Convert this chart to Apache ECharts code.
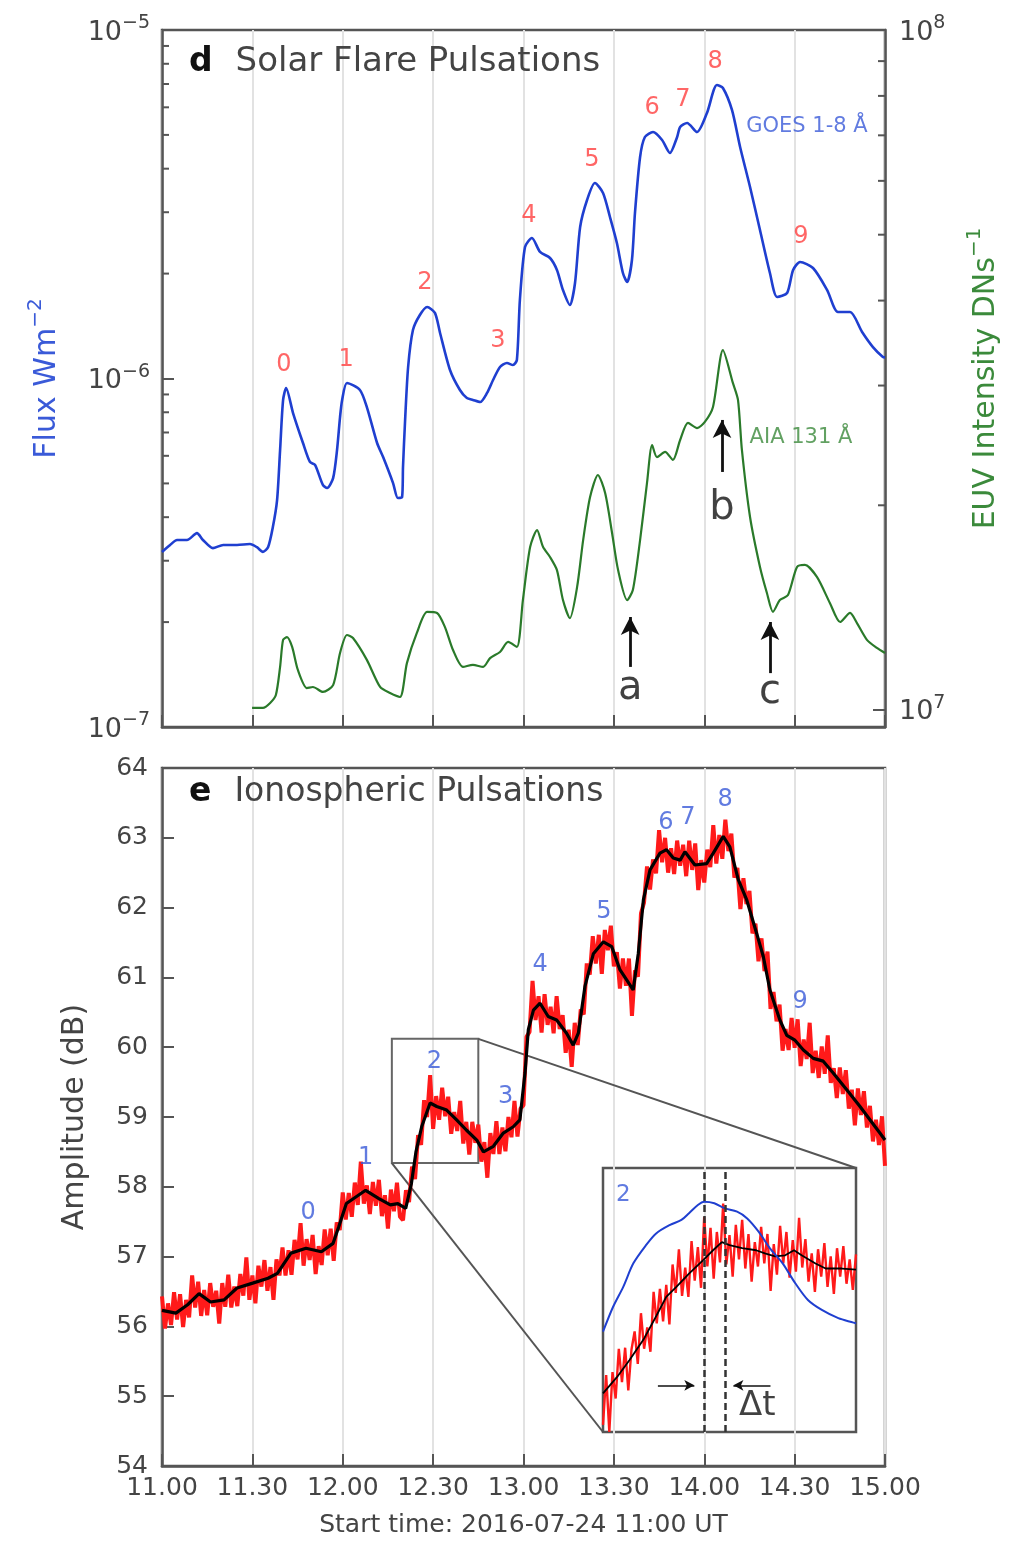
<!DOCTYPE html>
<html>
<head>
<meta charset="utf-8">
<title>Solar flare and ionospheric pulsations</title>
<script src="https://cdn.jsdelivr.net/npm/echarts@6.0.0/dist/echarts.min.js"></script>
<style>
  html, body { margin: 0; padding: 0; background: #ffffff; }
  #chart { width: 1014px; height: 1541px; }
</style>
</head>
<body>
<div id="chart"></div>
<script>
// time is in minutes after 11:00 UT, 2016-07-24
var timeLabels = ['11.00', '11.30', '12.00', '12.30', '13.00', '13.30', '14.00', '14.30', '15.00'];

// GOES 1-8 A flux, W m^-2
var goesTime = [0, 2.7, 5.0, 8.3, 11.6, 13.6, 16.9, 20.3, 24.9, 29.2,
  31.5, 33.5, 35.2, 36.8, 38.2, 39.2, 40.2, 41.2, 43.5, 46.8,
  49.1, 50.8, 53.4, 54.8, 56.8, 58.1, 59.1, 59.8, 61.4, 65.7,
  68.0, 71.4, 73.4, 76.7, 78.3, 79.7, 80.0, 80.7, 81.7, 83.3,
  85.6, 88.0, 90.6, 92.3, 95.6, 98.9, 101.2, 103.2, 105.6, 107.9,
  109.9, 112.2, 114.5, 116.5, 117.8, 118.8, 120.5, 122.8, 125.5, 128.8,
  131.1, 133.1, 135.4, 137.1, 138.8, 141.1, 143.7, 146.4, 148.7, 151.0,
  153.0, 154.4, 156.0, 157.0, 158.7, 160.3, 163.0, 166.0, 168.6, 171.0,
  172.0, 174.3, 177.6, 180.9, 184.2, 186.2, 189.2, 191.9, 195.2, 198.5,
  201.8, 204.2, 207.5, 209.5, 211.8, 216.1, 220.8, 224.4, 228.4, 232.4,
  236.0, 239.3, 240];
var goesFlux = [3.18e-7, 3.33e-7, 3.44e-7, 3.44e-7, 3.60e-7, 3.44e-7, 3.26e-7, 3.33e-7, 3.33e-7, 3.35e-7,
  3.28e-7, 3.18e-7, 3.28e-7, 3.75e-7, 4.48e-7, 6.23e-7, 8.68e-7, 9.39e-7, 7.96e-7, 6.53e-7,
  5.76e-7, 5.65e-7, 4.95e-7, 4.85e-7, 5.18e-7, 6.23e-7, 7.75e-7, 8.68e-7, 9.71e-7, 9.27e-7,
  8.28e-7, 6.53e-7, 5.95e-7, 5.01e-7, 4.54e-7, 4.57e-7, 5.57e-7, 7.60e-7, 1.079e-6, 1.377e-6,
  1.521e-6, 1.604e-6, 1.542e-6, 1.351e-6, 1.058e-6, 9.27e-7, 8.79e-7, 8.68e-7, 8.56e-7, 9.09e-7,
  9.90e-7, 1.079e-6, 1.108e-6, 1.093e-6, 1.130e-6, 1.680e-6, 2.384e-6, 2.531e-6, 2.307e-6, 2.217e-6,
  2.048e-6, 1.794e-6, 1.625e-6, 1.879e-6, 2.721e-6, 3.252e-6, 3.639e-6, 3.406e-6, 2.907e-6, 2.448e-6,
  2.008e-6, 1.892e-6, 2.188e-6, 2.985e-6, 4.321e-6, 4.932e-6, 5.096e-6, 4.834e-6, 4.437e-6, 4.932e-6,
  5.268e-6, 5.409e-6, 5.096e-6, 5.779e-6, 6.954e-6, 6.818e-6, 5.895e-6, 4.616e-6, 3.544e-6, 2.667e-6,
  2.008e-6, 1.713e-6, 1.759e-6, 2.048e-6, 2.159e-6, 2.075e-6, 1.794e-6, 1.551e-6, 1.551e-6, 1.360e-6,
  1.231e-6, 1.153e-6, 1.150e-6];

// AIA 131 A intensity, DN s^-1
var aiaTime = [29.9, 33.5, 35.9, 37.8, 39.2, 40.2, 41.5, 43.2, 45.1, 48.1,
  50.1, 53.4, 56.8, 59.1, 61.4, 63.4, 68.0, 72.4, 75.7, 79.0,
  81.3, 84.6, 88.0, 91.3, 93.9, 96.6, 99.9, 103.2, 106.6, 108.9,
  112.2, 114.9, 117.8, 119.8, 122.2, 124.5, 126.5, 128.8, 131.1, 133.1,
  135.4, 137.8, 139.8, 142.1, 144.7, 147.1, 149.4, 151.4, 154.4, 156.3,
  158.7, 161.0, 162.7, 164.3, 167.0, 169.6, 172.0, 174.6, 177.6, 180.2,
  182.9, 186.2, 189.5, 191.2, 192.5, 195.2, 198.5, 200.8, 202.8, 205.1,
  207.8, 210.8, 213.4, 217.4, 221.7, 225.1, 228.4, 230.7, 234.0, 237.3,
  240];
var aiaFlux = [1.007e7, 1.007e7, 1.024e7, 1.052e7, 1.157e7, 1.268e7, 1.280e7, 1.238e7, 1.145e7, 1.077e7,
  1.081e7, 1.063e7, 1.088e7, 1.213e7, 1.289e7, 1.276e7, 1.185e7, 1.081e7, 1.059e7, 1.045e7,
  1.172e7, 1.298e7, 1.394e7, 1.389e7, 1.325e7, 1.225e7, 1.157e7, 1.165e7, 1.157e7, 1.192e7,
  1.217e7, 1.259e7, 1.238e7, 1.451e7, 1.736e7, 1.839e7, 1.736e7, 1.679e7, 1.606e7, 1.451e7,
  1.365e7, 1.517e7, 1.778e7, 2.057e7, 2.216e7, 2.085e7, 1.821e7, 1.606e7, 1.451e7, 1.501e7,
  1.778e7, 2.157e7, 2.453e7, 2.355e7, 2.396e7, 2.332e7, 2.495e7, 2.643e7, 2.598e7, 2.652e7,
  2.790e7, 3.383e7, 3.027e7, 2.857e7, 2.412e7, 1.922e7, 1.623e7, 1.486e7, 1.394e7, 1.451e7,
  1.476e7, 1.623e7, 1.634e7, 1.569e7, 1.437e7, 1.347e7, 1.389e7, 1.342e7, 1.268e7, 1.234e7,
  1.213e7];

// VLF amplitude (dB), smoothed
var ampSmoothTime = [0, 4.6, 8.5, 12.3, 16.1, 20.6, 24.9, 30.1, 35.2, 38.3,
  42.8, 47.8, 52.9, 56.8, 58.7, 61.2, 67.6, 72.0, 75.8, 78.3,
  80.9, 82.8, 84.3, 86.2, 89.0, 91.2, 94.5, 97.8, 101.1, 104.5,
  106.7, 110.0, 113.3, 116.6, 118.8, 120.5, 121.6, 123.3, 125.5, 128.2,
  131.0, 134.3, 136.5, 138.2, 140.4, 143.2, 146.5, 149.3, 152.0, 154.3,
  156.4, 158.1, 159.8, 162.0, 165.3, 167.5, 169.7, 172.0, 173.6, 176.9,
  180.8, 183.0, 186.3, 188.5, 191.3, 194.1, 197.4, 199.6, 201.8, 205.1,
  207.4, 210.1, 212.9, 216.2, 219.5, 222.8, 227.3, 231.7, 235.0, 238.3,
  240];
var ampSmooth = [56.23, 56.19, 56.31, 56.47, 56.35, 56.38, 56.55, 56.62, 56.69, 56.76,
  57.05, 57.12, 57.07, 57.19, 57.43, 57.76, 57.95, 57.83, 57.74, 57.76,
  57.69, 58.05, 58.50, 58.86, 59.20, 59.15, 59.10, 58.96, 58.81, 58.67,
  58.50, 58.58, 58.77, 58.86, 58.96, 59.63, 60.25, 60.53, 60.63, 60.44,
  60.39, 60.20, 60.03, 60.20, 60.87, 61.34, 61.51, 61.44, 61.11, 60.96,
  60.82, 61.34, 62.11, 62.54, 62.78, 62.83, 62.71, 62.68, 62.80, 62.61,
  62.63, 62.78, 63.02, 62.87, 62.40, 62.11, 61.63, 61.30, 60.82, 60.39,
  60.17, 60.10, 59.96, 59.84, 59.80, 59.63, 59.39, 59.15, 58.96, 58.77,
  58.67];

// VLF amplitude (dB), raw, one sample a minute from 11:00
var ampRawStart = 0;
var ampRawStep = 1;
var ampRaw = [56.43, 55.97, 56.33, 56.02, 56.49, 56.10, 56.46, 55.99, 56.38, 56.13,
  56.73, 56.27, 56.64, 56.15, 56.52, 56.16, 56.62, 56.28, 56.51, 56.04,
  56.62, 56.28, 56.74, 56.27, 56.57, 56.29, 56.75, 56.44, 56.99, 56.38,
  56.73, 56.33, 56.87, 56.57, 56.95, 56.51, 56.85, 56.38, 56.96, 56.73,
  57.13, 56.73, 57.09, 56.74, 57.24, 56.96, 57.48, 56.87, 57.25, 56.95,
  57.31, 56.75, 57.15, 56.88, 57.39, 57.02, 57.40, 56.94, 57.49, 57.38,
  57.92, 57.53, 57.91, 57.57, 58.06, 57.74, 58.36, 57.76, 58.02, 57.61,
  58.07, 57.73, 58.10, 57.58, 57.88, 57.40, 57.96, 57.65, 58.06, 57.57,
  57.52, 57.95, 57.78, 58.29, 58.11, 58.74, 58.60, 59.24, 59.00, 59.60,
  58.83, 59.30, 58.96, 59.42, 59.01, 59.29, 58.76, 59.07, 58.80, 59.23,
  58.62, 58.93, 58.46, 58.93, 58.63, 58.89, 58.36, 58.64, 58.13, 58.77,
  58.47, 58.94, 58.47, 58.85, 58.51, 59.00, 58.71, 59.23, 58.72, 59.12,
  59.17, 60.15, 60.22, 60.95, 60.39, 60.73, 60.21, 60.76, 60.32, 60.58,
  60.20, 60.73, 60.26, 60.46, 59.92, 60.25, 59.72, 60.35, 60.03, 60.54,
  60.47, 61.20, 61.04, 61.59, 61.20, 61.61, 61.05, 61.68, 61.39, 61.74,
  61.16, 61.36, 60.84, 61.27, 60.88, 61.27, 60.45, 61.10, 61.01, 61.92,
  62.07, 62.59, 62.26, 62.69, 62.49, 63.11, 62.65, 63.00, 62.50, 62.85,
  62.48, 62.96, 62.60, 62.90, 62.45, 62.96, 62.54, 62.92, 62.25, 62.68,
  62.36, 62.83, 62.58, 63.18, 62.63, 63.04, 62.70, 63.26, 62.81, 63.06,
  62.43, 62.57, 61.98, 62.42, 62.05, 62.24, 61.63, 61.77, 61.23, 61.56,
  61.09, 61.37, 60.55, 60.79, 60.37, 60.61, 59.95, 60.26, 59.96, 60.42,
  59.99, 60.40, 59.73, 60.11, 59.83, 60.35, 59.63, 59.95, 59.56, 60.01,
  59.62, 60.17, 59.49, 59.70, 59.27, 59.71, 59.33, 59.67, 59.12, 59.39,
  58.88, 59.41, 59.03, 59.37, 58.85, 59.16, 58.65, 58.96, 58.60, 59.01,
  58.30];

// pulsation numbers
var pulseNames = ['0', '1', '2', '3', '4', '5', '6', '7', '8', '9'];
var goesPulseTime = [40.5, 61.1, 87.3, 111.5, 121.8, 142.7, 162.7, 172.9, 183.6, 212.1];
var goesPulseFlux = [1.093e-6, 1.13e-6, 1.879e-6, 1.281e-6, 2.927e-6, 4.236e-6, 5.97e-6, 6.3e-6, 8.09e-6, 2.547e-6];
var ampPulseTime = [48.5, 67.6, 90.4, 114.1, 125.5, 146.7, 167.3, 174.6, 186.9, 211.8];
var ampPulseDb = [57.63, 58.41, 59.79, 59.29, 61.18, 61.94, 63.21, 63.28, 63.54, 60.65];

// arrows a, b, c on the AIA curve
var arrowNames = ['a', 'b', 'c'];
var arrowTime = [155.4, 185.9, 201.8];
var arrowFrom = [1.157e7, 2.239e7, 1.133e7];
var arrowTo = [1.370e7, 2.670e7, 1.347e7];
var arrowTextEuv = [1.074e7, 1.975e7, 1.062e7];

// log axis minor ticks
var minorFluxTicks = [2e-7, 3e-7, 4e-7, 5e-7, 6e-7, 7e-7, 8e-7, 9e-7, 2e-6, 3e-6, 4e-6, 5e-6, 6e-6, 7e-6, 8e-6, 9e-6];
var minorEuvTicks = [2e7, 3e7, 4e7, 5e7, 6e7, 7e7, 8e7, 9e7];

// zoom box around pulsation 2 and the inset
var zoomBoxTime = [76.3, 105.0];
var zoomBoxDb = [58.34, 60.12];
var insetTimeRange = [80, 100];
var insetDbRange = [57.4, 60.0];
var insetFluxRange = [0.8e-6, 1.7e-6];
var insetGoesTime = [80.0, 80.8, 81.6, 82.4, 83.4, 84.2, 85.3, 86.2, 86.8, 87.5, 88.0, 88.8,
  89.6, 90.6, 91.4, 92.3, 93.2, 94.2, 95.2, 96.2, 97.3, 98.6, 99.8, 100];
var insetGoesFlux = [1.142e-6, 1.227e-6, 1.295e-6, 1.375e-6, 1.437e-6, 1.477e-6, 1.506e-6, 1.523e-6,
  1.546e-6, 1.574e-6, 1.585e-6, 1.580e-6, 1.563e-6, 1.551e-6, 1.528e-6, 1.483e-6, 1.426e-6,
  1.375e-6, 1.307e-6, 1.250e-6, 1.216e-6, 1.188e-6, 1.173e-6, 1.170e-6];
var insetSmoothTime = [80.0, 81.1, 82.1, 83.2, 84.2, 85.0, 85.8, 86.8, 87.9, 88.7, 89.4, 90.0,
  91.0, 92.1, 92.8, 93.6, 94.4, 95.1, 95.7, 96.8, 97.6, 98.9, 100];
var insetSmooth = [57.78, 57.94, 58.11, 58.31, 58.54, 58.73, 58.83, 58.96, 59.09, 59.19, 59.27, 59.24,
  59.21, 59.19, 59.16, 59.13, 59.14, 59.19, 59.14, 59.06, 59.01, 59.01, 59.00];
var insetRawStart = 80;
var insetRawStep = 0.25;
var insetRaw = [57.47, 57.96, 57.40, 57.99, 57.73, 58.22, 57.89, 58.23, 57.81, 58.21,
  58.39, 58.07, 58.57, 58.22, 58.43, 58.19, 58.78, 58.47, 58.81, 58.49,
  58.85, 58.46, 59.05, 58.77, 59.20, 58.74, 59.02, 58.73, 59.28, 58.89,
  59.22, 58.82, 59.52, 59.03, 59.41, 58.91, 59.37, 59.07, 59.65, 59.05,
  59.34, 58.93, 59.44, 59.10, 59.49, 59.01, 59.35, 58.88, 59.27, 59.03,
  59.42, 59.06, 59.35, 58.79, 59.25, 58.95, 59.43, 59.06, 59.37, 58.92,
  59.29, 58.98, 59.51, 59.02, 59.30, 58.88, 59.16, 58.78, 59.20, 58.93,
  59.26, 58.83, 59.13, 58.76, 59.21, 58.93, 59.23, 58.86, 59.10, 58.80,
  59.15];
var peakTimes = [88.0, 89.65];
var deltaArrowDb = 57.86;
var deltaArrowLeft = [84.34, 87.22];
var deltaArrowRight = [93.24, 90.31];

var FONT = 'DejaVu Sans';
var GREY = '#444444';
var FRAME = '#555555';
var BLUE = '#1f3fd0';
var BLUE_TXT = '#3a5ad8';
var GREEN = '#2a7a2a';
var GREEN_TXT = '#3b8a3b';
var RED = '#ff1a1a';
var RED_TXT = '#ff4040';

function pairs(xs, ys) {
  return xs.map(function (x, i) { return [x, ys[i]]; });
}
function stepped(start, step, ys) {
  return ys.map(function (y, i) { return [start + i * step, y]; });
}
function supLabel(v) {
  var e = Math.log(v) / Math.LN10;
  var r = Math.round(e);
  if (Math.abs(e - r) > 1e-6) return '';
  return '{b|10}{s|' + (r < 0 ? '\u2212' + (-r) : r) + '}';
}
var supRich = {
  b: { fontSize: 27, color: GREY, fontFamily: FONT, lineHeight: 32, verticalAlign: 'bottom' },
  s: { fontSize: 19, color: GREY, fontFamily: FONT, lineHeight: 18, verticalAlign: 'top' }
};
function nameRich(color) {
  return {
    n: { fontSize: 30, color: color, fontFamily: FONT, lineHeight: 36, verticalAlign: 'bottom' },
    s: { fontSize: 20, color: color, fontFamily: FONT, lineHeight: 20, verticalAlign: 'top' }
  };
}
function textSeries(xIdx, yIdx, xs, ys, names, color, size, weight) {
  return {
    type: 'scatter', xAxisIndex: xIdx, yAxisIndex: yIdx, silent: true, z: 6,
    symbolSize: 1, itemStyle: { color: 'rgba(0,0,0,0)' },
    data: pairs(xs, ys),
    label: {
      show: true, position: 'inside', color: color, fontSize: size,
      fontWeight: weight || 'normal', fontFamily: FONT,
      formatter: function (p) { return names[p.dataIndex]; }
    }
  };
}
function minorTickSeries(yIdx, xVal, values, dir) {
  return {
    type: 'custom', xAxisIndex: 0, yAxisIndex: yIdx, silent: true, z: 5,
    data: values.map(function (v) { return [xVal, v]; }),
    renderItem: function (params, api) {
      var p = api.coord([api.value(0), api.value(1)]);
      return {
        type: 'line',
        shape: { x1: p[0], y1: p[1], x2: p[0] + dir * 7, y2: p[1] },
        style: { stroke: FRAME, lineWidth: 2 }
      };
    }
  };
}

var tickStyle = { show: true, inside: true, length: 12, lineStyle: { color: FRAME, width: 2 } };
var lineAxis = { show: true, lineStyle: { color: FRAME, width: 2.5 } };
var gridBase = { show: true, borderColor: FRAME, borderWidth: 2.5, backgroundColor: 'transparent', outerBoundsMode: 'none' };
function titleRich(size) {
  return {
    d: { fontSize: 33, fontWeight: 'bold', color: '#111', fontFamily: FONT, lineHeight: 40 },
    t: { fontSize: size, fontWeight: 'normal', color: GREY, fontFamily: FONT, lineHeight: 40, padding: [0, 0, 0, 23] }
  };
}

var chart = echarts.init(document.getElementById('chart'));

var option = {
  animation: false,
  backgroundColor: '#ffffff',
  textStyle: { fontFamily: FONT },
  title: [
    { left: 189, top: 42, padding: 0, text: '{d|d}{t|Solar Flare Pulsations}',
      textStyle: { fontWeight: 'normal', rich: titleRich(34) } },
    { left: 189, top: 772, padding: 0, text: '{d|e}{t|Ionospheric Pulsations}',
      textStyle: { fontWeight: 'normal', rich: titleRich(33) } }
  ],
  grid: [
    Object.assign({ left: 162, top: 30, width: 723, height: 697 }, gridBase),
    Object.assign({ left: 162, top: 768, width: 723, height: 698 }, gridBase),
    Object.assign({ left: 603, top: 1168, width: 253, height: 264 }, gridBase)
  ],
  xAxis: [
    {
      gridIndex: 0, type: 'value', min: 0, max: 240, interval: 30,
      axisLine: lineAxis, axisTick: tickStyle, axisLabel: { show: false },
      splitLine: { show: true, lineStyle: { color: '#e2e2e2', width: 2 } }
    },
    {
      gridIndex: 1, type: 'value', min: 0, max: 240, interval: 30,
      axisLine: lineAxis, axisTick: tickStyle,
      axisLabel: {
        show: true, fontSize: 25, color: GREY, fontFamily: FONT, margin: 10,
        formatter: function (v) { return timeLabels[Math.round(v / 30)]; }
      },
      splitLine: { show: true, lineStyle: { color: '#e2e2e2', width: 2 } },
      name: 'Start time: 2016-07-24 11:00 UT', nameLocation: 'middle', nameGap: 47,
      nameTextStyle: { fontSize: 25, color: GREY, fontFamily: FONT }
    },
    { gridIndex: 2, type: 'value', min: insetTimeRange[0], max: insetTimeRange[1], show: false }
  ],
  yAxis: [
    {
      gridIndex: 0, type: 'log', logBase: 10, min: 1e-7, max: 1e-5, position: 'left',
      axisLine: lineAxis, axisTick: tickStyle, splitLine: { show: false },
      axisLabel: { formatter: supLabel, rich: supRich, margin: 12 },
      name: '{n|Flux Wm}{s|\u22122}', nameLocation: 'middle', nameRotate: 90, nameGap: 100,
      nameTextStyle: { rich: nameRich(BLUE_TXT) }
    },
    {
      gridIndex: 0, type: 'log', logBase: 10, min: 9.44e6, max: 1e8, position: 'right',
      axisLine: lineAxis, axisTick: tickStyle, splitLine: { show: false },
      axisLabel: { formatter: supLabel, rich: supRich, margin: 14 },
      name: '{n|EUV Intensity DNs}{s|\u22121}', nameLocation: 'middle', nameRotate: 90, nameGap: 80,
      nameTextStyle: { rich: nameRich(GREEN_TXT) }
    },
    {
      gridIndex: 1, type: 'value', min: 54, max: 64, interval: 1, position: 'left',
      axisLine: lineAxis, axisTick: tickStyle, splitLine: { show: false },
      axisLabel: { fontSize: 25, color: GREY, fontFamily: FONT, margin: 14 },
      name: 'Amplitude (dB)', nameLocation: 'middle', nameRotate: 90, nameGap: 72,
      nameTextStyle: { fontSize: 30, color: GREY, fontFamily: FONT }
    },
    { gridIndex: 2, type: 'value', min: insetDbRange[0], max: insetDbRange[1], show: false },
    { gridIndex: 2, type: 'value', min: insetFluxRange[0], max: insetFluxRange[1], show: false }
  ],
  series: [
    // panel d
    {
      name: 'GOES 1-8 Å', type: 'line', xAxisIndex: 0, yAxisIndex: 0, z: 3,
      showSymbol: false, silent: true, smooth: 0.25, data: pairs(goesTime, goesFlux),
      lineStyle: { color: BLUE, width: 2.6 }
    },
    {
      name: 'AIA 131 Å', type: 'line', xAxisIndex: 0, yAxisIndex: 1, z: 3,
      showSymbol: false, silent: true, smooth: 0.25, data: pairs(aiaTime, aiaFlux),
      lineStyle: { color: GREEN, width: 2.2 },
      markLine: {
        silent: true, symbol: ['none', 'arrow'], symbolSize: [14, 18],
        label: { show: false },
        lineStyle: { color: '#111', width: 2.8, type: 'solid' },
        data: arrowTime.map(function (t, i) {
          return [{ coord: [t, arrowFrom[i]] }, { coord: [t, arrowTo[i]] }];
        })
      }
    },
    minorTickSeries(0, 0, minorFluxTicks, 1),
    minorTickSeries(1, 240, minorEuvTicks, -1),
    textSeries(0, 0, goesPulseTime, goesPulseFlux, pulseNames, RED_TXT, 24),
    textSeries(0, 0, [214.1], [5.27e-6], ['GOES 1-8 Å'], BLUE_TXT, 21),
    textSeries(0, 1, [212.1], [2.512e7], ['AIA 131 Å'], GREEN_TXT, 21),
    textSeries(0, 1, arrowTime, arrowTextEuv, arrowNames, '#111', 40),

    // panel e
    {
      name: 'raw', type: 'line', xAxisIndex: 1, yAxisIndex: 2, z: 3,
      showSymbol: false, silent: true, data: stepped(ampRawStart, ampRawStep, ampRaw),
      lineStyle: { color: RED, width: 4, join: 'bevel' }
    },
    {
      name: 'smoothed', type: 'line', xAxisIndex: 1, yAxisIndex: 2, z: 4,
      showSymbol: false, silent: true, data: pairs(ampSmoothTime, ampSmooth),
      lineStyle: { color: '#000', width: 3.2 },
      markArea: {
        silent: true,
        itemStyle: { color: 'rgba(0,0,0,0)', borderColor: '#666', borderWidth: 2 },
        data: [[{ coord: [zoomBoxTime[0], zoomBoxDb[1]] }, { coord: [zoomBoxTime[1], zoomBoxDb[0]] }]]
      }
    },
    textSeries(1, 2, ampPulseTime, ampPulseDb, pulseNames, BLUE_TXT, 24),

    // inset
    {
      name: 'inset raw', type: 'line', xAxisIndex: 2, yAxisIndex: 3, z: 3,
      showSymbol: false, silent: true, data: stepped(insetRawStart, insetRawStep, insetRaw),
      lineStyle: { color: RED, width: 2.4, join: 'bevel' },
      markLine: {
        silent: true, symbol: ['none', 'arrow'], symbolSize: [8, 10],
        label: { show: false },
        lineStyle: { color: '#111', width: 1.6, type: 'solid' },
        data: [
          [{ coord: [deltaArrowLeft[0], deltaArrowDb] }, { coord: [deltaArrowLeft[1], deltaArrowDb] }],
          [{ coord: [deltaArrowRight[0], deltaArrowDb] }, { coord: [deltaArrowRight[1], deltaArrowDb] }]
        ]
      }
    },
    {
      name: 'inset smoothed', type: 'line', xAxisIndex: 2, yAxisIndex: 3, z: 4,
      showSymbol: false, silent: true, data: pairs(insetSmoothTime, insetSmooth),
      lineStyle: { color: '#000', width: 1.8 },
      markLine: {
        silent: true, symbol: 'none', label: { show: false },
        lineStyle: { color: '#333', width: 2.5, type: [7, 4] },
        data: peakTimes.map(function (t) { return { xAxis: t }; })
      }
    },
    {
      name: 'inset GOES', type: 'line', xAxisIndex: 2, yAxisIndex: 4, z: 4,
      showSymbol: false, silent: true, smooth: 0.3, data: pairs(insetGoesTime, insetGoesFlux),
      lineStyle: { color: BLUE, width: 2 }
    },
    textSeries(2, 3, [81.6], [59.73], ['2'], BLUE_TXT, 23),
    textSeries(2, 3, [92.2], [57.65], ['\u0394t'], '#111', 34)
  ]
};

chart.setOption(option);

// lines joining the zoom box to the inset
var fMain = { xAxisIndex: 1, yAxisIndex: 2 };
var fInset = { xAxisIndex: 2, yAxisIndex: 3 };
var boxTR = chart.convertToPixel(fMain, [zoomBoxTime[1], zoomBoxDb[1]]);
var boxBL = chart.convertToPixel(fMain, [zoomBoxTime[0], zoomBoxDb[0]]);
var insTR = chart.convertToPixel(fInset, [insetTimeRange[1], insetDbRange[1]]);
var insBL = chart.convertToPixel(fInset, [insetTimeRange[0], insetDbRange[0]]);
chart.setOption({
  graphic: [
    { type: 'line', silent: true, z: 2, shape: { x1: boxTR[0], y1: boxTR[1], x2: insTR[0], y2: insTR[1] }, style: { stroke: '#555', lineWidth: 2 } },
    { type: 'line', silent: true, z: 2, shape: { x1: boxBL[0], y1: boxBL[1], x2: insBL[0], y2: insBL[1] }, style: { stroke: '#555', lineWidth: 2 } }
  ]
});
</script>
</body>
</html>
